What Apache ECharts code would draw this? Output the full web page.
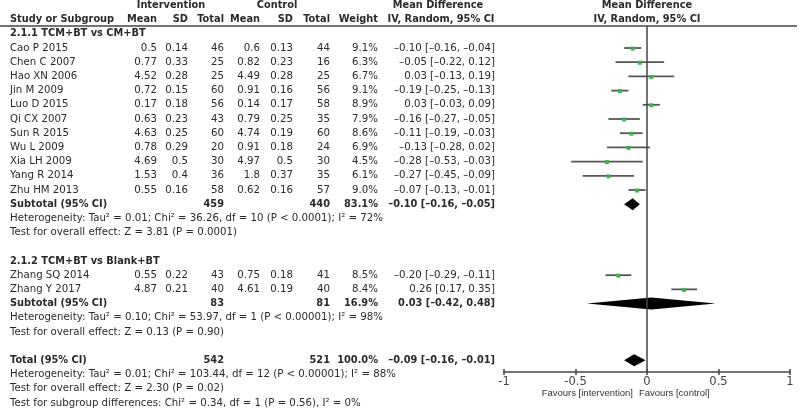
<!DOCTYPE html>
<html>
<head>
<meta charset="utf-8" />
<title>forest</title>
<script src="https://cdn.jsdelivr.net/npm/echarts@6/dist/echarts.min.js"></script>
<style>body{margin:0;background:#fff;}</style>
</head>
<body>
<div id="forest" style="width:800px;height:409px;"></div>
<script>
// study level data
var studies = ['Cao P 2015', 'Chen C 2007', 'Hao XN 2006', 'Jin M 2009', 'Luo D 2015', 'Qi CX 2007', 'Sun R 2015',
	'Wu L 2009', 'Xia LH 2009', 'Yang R 2014', 'Zhu HM 2013', 'Zhang SQ 2014', 'Zhang Y 2017'];
var groupOf = [0, 0, 0, 0, 0, 0, 0, 0, 0, 0, 0, 1, 1];
var intMean = ['0.5', '0.77', '4.52', '0.72', '0.17', '0.63', '4.63', '0.78', '4.69', '1.53', '0.55', '0.55', '4.87'];
var intSD = ['0.14', '0.33', '0.28', '0.15', '0.18', '0.23', '0.25', '0.29', '0.5', '0.4', '0.16', '0.22', '0.21'];
var intN = [46, 25, 25, 60, 56, 43, 60, 20, 30, 36, 58, 43, 40];
var ctlMean = ['0.6', '0.82', '4.49', '0.91', '0.14', '0.79', '4.74', '0.91', '4.97', '1.8', '0.62', '0.75', '4.61'];
var ctlSD = ['0.13', '0.23', '0.28', '0.16', '0.17', '0.25', '0.19', '0.18', '0.5', '0.37', '0.16', '0.18', '0.19'];
var ctlN = [44, 16, 25, 56, 58, 35, 60, 24, 30, 35, 57, 41, 40];
var weight = ['9.1%', '6.3%', '6.7%', '9.1%', '8.9%', '7.9%', '8.6%', '6.9%', '4.5%', '6.1%', '9.0%', '8.5%', '8.4%'];
var md = [-0.10, -0.05, 0.03, -0.19, 0.03, -0.16, -0.11, -0.13, -0.28, -0.27, -0.07, -0.20, 0.26];
var lo = [-0.16, -0.22, -0.13, -0.25, -0.03, -0.27, -0.19, -0.28, -0.53, -0.45, -0.13, -0.29, 0.17];
var hi = [-0.04, 0.12, 0.19, -0.13, 0.09, -0.05, -0.03, 0.02, -0.03, -0.09, -0.01, -0.11, 0.35];

// subgroups + total
var groupNames = ['2.1.1 TCM+BT vs CM+BT', '2.1.2 TCM+BT vs Blank+BT'];
var sumNames = ['Subtotal (95% CI)', 'Subtotal (95% CI)', 'Total (95% CI)'];
var sumIntN = [459, 83, 542];
var sumCtlN = [440, 81, 521];
var sumWeight = ['83.1%', '16.9%', '100.0%'];
var sumMd = [-0.10, 0.03, -0.09];
var sumLo = [-0.16, -0.42, -0.16];
var sumHi = [-0.05, 0.48, -0.01];
var hetText = [
	'Heterogeneity: Tau² = 0.01; Chi² = 36.26, df = 10 (P < 0.0001); I² = 72%',
	'Heterogeneity: Tau² = 0.10; Chi² = 53.97, df = 1 (P < 0.00001); I² = 98%',
	'Heterogeneity: Tau² = 0.01; Chi² = 103.44, df = 12 (P < 0.00001); I² = 88%'
];
var effectText = [
	'Test for overall effect: Z = 3.81 (P = 0.0001)',
	'Test for overall effect: Z = 0.13 (P = 0.90)',
	'Test for overall effect: Z = 2.30 (P = 0.02)'
];
var diffText = 'Test for subgroup differences: Chi² = 0.34, df = 1 (P = 0.56), I² = 0%';

var xTicks = ['-1', '-0.5', '0', '0.5', '1'];
var favLeft = 'Favours [intervention]';
var favRight = 'Favours [control]';

// column x positions (px)
var col = {name: 10, im: 157, isd: 188, inn: 224, cm: 260, csd: 293, cn: 330, w: 378, ci: 495};

var cells = [];
function cell(x, r, t, a, b) {
	cells.push({x: x, r: r, t: String(t), a: a, b: !!b});
}
function fmtCI(m, l, h) {
	return (m.toFixed(2) + ' [' + l.toFixed(2) + ', ' + h.toFixed(2) + ']').replace(/-/g, '–');
}

// header
cell(171, -2, 'Intervention', 'center', true);
cell(277, -2, 'Control', 'center', true);
cell(438, -2, 'Mean Difference', 'center', true);
cell(647, -2, 'Mean Difference', 'center', true);
cell(col.name, -1, 'Study or Subgroup', 'left', true);
cell(col.im, -1, 'Mean', 'right', true);
cell(col.isd, -1, 'SD', 'right', true);
cell(col.inn, -1, 'Total', 'right', true);
cell(col.cm, -1, 'Mean', 'right', true);
cell(col.csd, -1, 'SD', 'right', true);
cell(col.cn, -1, 'Total', 'right', true);
cell(col.w, -1, 'Weight', 'right', true);
cell(441, -1, 'IV, Random, 95% CI', 'center', true);
cell(647, -1, 'IV, Random, 95% CI', 'center', true);

var studyData = [];
var sumData = [];
function sumRow(k, r) {
	cell(col.name, r, sumNames[k], 'left', true);
	cell(col.inn, r, sumIntN[k], 'right', true);
	cell(col.cn, r, sumCtlN[k], 'right', true);
	cell(col.w, r, sumWeight[k], 'right', true);
	cell(col.ci, r, fmtCI(sumMd[k], sumLo[k], sumHi[k]), 'right', true);
	sumData.push([r, sumMd[k], sumLo[k], sumHi[k]]);
	cell(col.name, r + 1, hetText[k], 'left');
	cell(col.name, r + 2, effectText[k], 'left');
}

var r = 0;
for (var g = 0; g < groupNames.length; g++) {
	cell(col.name, r, groupNames[g], 'left', true);
	r++;
	for (var i = 0; i < studies.length; i++) {
		if (groupOf[i] !== g) continue;
		cell(col.name, r, studies[i], 'left');
		cell(col.im, r, intMean[i], 'right');
		cell(col.isd, r, intSD[i], 'right');
		cell(col.inn, r, intN[i], 'right');
		cell(col.cm, r, ctlMean[i], 'right');
		cell(col.csd, r, ctlSD[i], 'right');
		cell(col.cn, r, ctlN[i], 'right');
		cell(col.w, r, weight[i], 'right');
		cell(col.ci, r, fmtCI(md[i], lo[i], hi[i]), 'right');
		studyData.push([r, md[i], lo[i], hi[i]]);
		r++;
	}
	sumRow(g, r);
	r += 4;
}
sumRow(2, r);
cell(col.name, r + 3, diffText, 'left');

var TXT = '#2a2a2a';
var FONT = '"DejaVu Sans"';

var myChart = echarts.init(document.getElementById('forest'));
var yRange = {min: -0.55, max: 23.82};
var option = {
	animation: false,
	grid: [
		{left: 0, right: 0, top: 26, height: 346},
		{left: 504, width: 286, top: 26, height: 346},
		{left: 504, width: 286, top: 26, height: 346}
	],
	xAxis: [
		{gridIndex: 0, type: 'value', min: 0, max: 800, show: false},
		{
			gridIndex: 1, type: 'value', min: -1, max: 1, interval: 0.5, position: 'bottom',
			axisLine: {onZero: false, lineStyle: {color: '#444', width: 1.5}},
			axisTick: {length: 3, lineStyle: {color: '#444', width: 1.5}},
			axisLabel: {
				margin: 4, color: '#444', fontFamily: FONT, fontSize: 11.5,
				formatter: function (v) { return xTicks[Math.round((v + 1) / 0.5)]; }
			},
			splitLine: {show: false}
		},
		{
			// upward half of the crossing ticks
			gridIndex: 2, type: 'value', min: -1, max: 1, interval: 0.5, position: 'bottom',
			axisLine: {show: false, onZero: false},
			axisTick: {inside: true, length: 3, lineStyle: {color: '#444', width: 1.5}},
			axisLabel: {show: false},
			splitLine: {show: false}
		}
	],
	yAxis: [
		{gridIndex: 0, type: 'value', min: yRange.min, max: yRange.max, inverse: true, show: false},
		{gridIndex: 1, type: 'value', min: yRange.min, max: yRange.max, inverse: true, show: false},
		{gridIndex: 2, type: 'value', min: yRange.min, max: yRange.max, inverse: true, show: false}
	],
	graphic: [
		{type: 'line', shape: {x1: 0, y1: 26, x2: 797, y2: 26}, style: {stroke: '#444', lineWidth: 1.5}},
		{type: 'text', x: 633, y: 393, style: {text: favLeft, align: 'right', verticalAlign: 'middle', font: '9.5px "Liberation Sans"', fill: '#333'}},
		{type: 'text', x: 639, y: 393, style: {text: favRight, align: 'left', verticalAlign: 'middle', font: '9.5px "Liberation Sans"', fill: '#333'}}
	],
	series: [
		{
			// table text
			type: 'custom', xAxisIndex: 0, yAxisIndex: 0, clip: false, silent: true,
			data: cells.map(function (c) { return [c.x, c.r]; }),
			renderItem: function (params, api) {
				var c = cells[params.dataIndex];
				var p = api.coord([c.x, c.r]);
				return {
					type: 'text', x: p[0], y: p[1],
					style: {
						text: c.t, align: c.a, verticalAlign: 'middle', fill: TXT,
						font: (c.b ? 'bold 9.8px ' : '10.2px ') + FONT
					}
				};
			}
		},
		{
			// study CIs
			type: 'custom', xAxisIndex: 1, yAxisIndex: 1, clip: false, silent: true,
			encode: {x: [1, 2, 3], y: 0},
			data: studyData,
			renderItem: function (params, api) {
				var rr = api.value(0);
				var pl = api.coord([api.value(2), rr]);
				var ph = api.coord([api.value(3), rr]);
				var pm = api.coord([api.value(1), rr]);
				return {
					type: 'group', children: [
						{type: 'line', shape: {x1: pl[0], y1: pl[1], x2: ph[0], y2: ph[1]}, style: {stroke: '#555', lineWidth: 1.8}},
						{type: 'rect', shape: {x: pm[0] - 2, y: pm[1] - 1.5, width: 4, height: 4}, style: {fill: '#3bb54a'}}
					]
				};
			},
			markLine: {
				silent: true, symbol: ['none', 'none'],
				label: {show: false},
				lineStyle: {color: '#444', width: 1.5, type: 'solid'},
				data: [{xAxis: 0}]
			}
		},
		{
			// summary diamonds
			type: 'custom', xAxisIndex: 1, yAxisIndex: 1, clip: false, silent: true,
			encode: {x: [1, 2, 3], y: 0},
			data: sumData,
			renderItem: function (params, api) {
				var rr = api.value(0);
				var pl = api.coord([api.value(2), rr]);
				var ph = api.coord([api.value(3), rr]);
				var pm = api.coord([api.value(1), rr]);
				return {
					type: 'polygon',
					shape: {points: [[pl[0], pl[1]], [pm[0], pm[1] - 6], [ph[0], ph[1]], [pm[0], pm[1] + 6]]},
					style: {fill: '#000'}
				};
			}
		}
	]
};
myChart.setOption(option);
</script>
</body>
</html>
